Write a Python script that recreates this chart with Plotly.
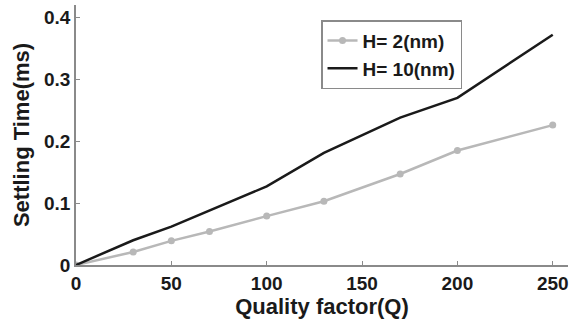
import plotly.graph_objects as go

# Quality factor values and settling times (ms) for two heights
quality_factor = [0, 30, 50, 70, 100, 130, 170, 200, 250]
settling_h2 = [0.0, 0.021, 0.039, 0.054, 0.079, 0.103, 0.147, 0.185, 0.226]
settling_h10 = [0.0, 0.040, 0.062, 0.088, 0.127, 0.181, 0.238, 0.270, 0.372]

x_ticks = [0, 50, 100, 150, 200, 250]
y_ticks = [0, 0.1, 0.2, 0.3, 0.4]
y_tick_text = ["0", "0.1", "0.2", "0.3", "0.4"]

font_family = "Liberation Sans, Arial, sans-serif"
text_color = "#1a1a1a"

fig = go.Figure()
fig.add_trace(go.Scatter(
    x=quality_factor, y=settling_h2, mode="lines+markers", name="H= 2(nm)",
    line=dict(color="#b8b8b8", width=2.5),
    marker=dict(color="#b8b8b8", size=7, symbol="circle"),
))
fig.add_trace(go.Scatter(
    x=quality_factor, y=settling_h10, mode="lines", name="H= 10(nm)",
    line=dict(color="#1a1a1a", width=2.5),
))

axis_common = dict(
    showgrid=False, zeroline=False, showline=True, linecolor="#8a8a8a",
    linewidth=1.5, ticks="inside", ticklen=4, tickcolor="#8a8a8a",
    tickfont=dict(family=font_family, size=19, color=text_color, weight="bold"),
    mirror=False,
)
title_font = dict(family=font_family, size=22, color=text_color, weight="bold")

fig.update_layout(
    width=571, height=325,
    margin=dict(l=76, r=3, t=5, b=60),
    paper_bgcolor="white", plot_bgcolor="white",
    showlegend=True,
    legend=dict(
        x=0.498, y=0.942, xanchor="left", yanchor="top",
        bgcolor="white", bordercolor="#8a8a8a", borderwidth=1.5,
        font=dict(family=font_family, size=19, color=text_color, weight="bold"),
        itemwidth=30, tracegroupgap=0,
    ),
    xaxis=dict(
        range=[0, 258], tickvals=x_ticks,
        title=dict(text="Quality factor(Q)", standoff=6, font=title_font),
        **axis_common,
    ),
    yaxis=dict(
        range=[0, 0.42], tickvals=y_ticks, ticktext=y_tick_text,
        title=dict(text="Settling Time(ms)", standoff=8, font=title_font),
        **axis_common,
    ),
)

fig.write_html("out.html")
